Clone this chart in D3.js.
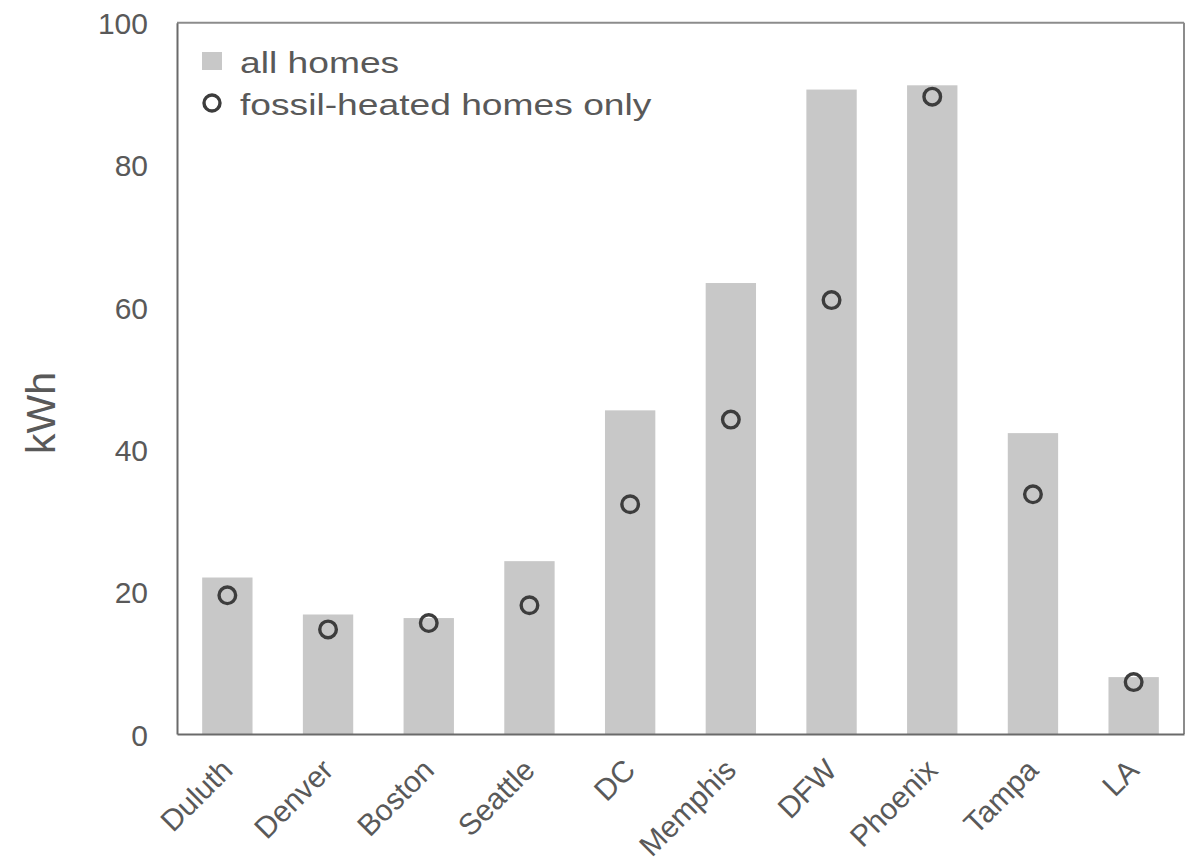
<!DOCTYPE html>
<html>
<head>
<meta charset="utf-8">
<script src="https://cdn.jsdelivr.net/npm/d3@7"></script>
<style>
  html, body { margin: 0; padding: 0; background: #fff; }
  svg text { font-family: "Liberation Sans", Arial, sans-serif; fill: #595959; }
</style>
</head>
<body>
<svg id="chart" width="1193" height="866"></svg>
<script>
const cities = ["Duluth", "Denver", "Boston", "Seattle", "DC", "Memphis", "DFW", "Phoenix", "Tampa", "LA"];
const allHomes = [22.0, 16.8, 16.3, 24.3, 45.5, 63.4, 90.6, 91.2, 42.3, 8.0];
const fossilHomes = [19.5, 14.7, 15.6, 18.1, 32.3, 44.2, 61.0, 89.6, 33.7, 7.3];
const yTicks = [0, 20, 40, 60, 80, 100];
const legendLabels = ["all homes", "fossil-heated homes only"];
const yLabel = "kWh";

const m = { left: 177, right: 1184, top: 22.7, bottom: 734 };
const SX = 1.24; // horizontal stretch of legend text seen in reference

const svg = d3.select("#chart");

const x = d3.scaleBand().domain(cities).range([m.left, m.right]).paddingInner(0.5).paddingOuter(0.25);
const y = d3.scaleLinear().domain([0, 100]).range([m.bottom, m.top]);

// bars
svg.append("g").selectAll("rect").data(cities).join("rect")
  .attr("x", d => x(d))
  .attr("width", x.bandwidth())
  .attr("y", (d, i) => y(allHomes[i]))
  .attr("height", (d, i) => y(0) - y(allHomes[i]))
  .attr("fill", "#c8c8c8");

// frame (top/right lighter)
svg.append("line").attr("x1", m.left).attr("x2", m.right).attr("y1", m.top).attr("y2", m.top)
  .attr("stroke", "#8c8c8c").attr("stroke-width", 2);
svg.append("line").attr("x1", m.right).attr("x2", m.right).attr("y1", m.top).attr("y2", m.bottom)
  .attr("stroke", "#8c8c8c").attr("stroke-width", 2);

// y axis
const yAxis = svg.append("g").attr("transform", `translate(${m.left},0)`)
  .call(d3.axisLeft(y).tickValues(yTicks).tickSize(0).tickPadding(0));
yAxis.select(".domain").attr("stroke", "#6a6a6a").attr("stroke-width", 2);
yAxis.selectAll(".tick text")
  .attr("x", -29).attr("dy", null).attr("y", 11)
  .attr("text-anchor", "end")
  .attr("font-size", 30)
  .style("fill", "#595959");

// x axis
const xAxis = svg.append("g").attr("transform", `translate(0,${m.bottom})`)
  .call(d3.axisBottom(x).tickSize(0).tickPadding(0));
xAxis.select(".domain").attr("stroke", "#6a6a6a").attr("stroke-width", 2);
xAxis.selectAll(".tick text")
  .attr("y", null).attr("dy", null)
  .attr("text-anchor", "end")
  .attr("font-size", 30)
  .attr("transform", `translate(7,38) rotate(-45)`)
  .style("fill", "#595959");
svg.selectAll(".tick line").remove();

// circles
svg.append("g").selectAll("circle").data(cities).join("circle")
  .attr("cx", d => x(d) + x.bandwidth() / 2)
  .attr("cy", (d, i) => y(fossilHomes[i]))
  .attr("r", 8.3)
  .attr("fill", "none")
  .attr("stroke", "#3d3d3d")
  .attr("stroke-width", 3.4);

// y label
svg.append("text")
  .attr("transform", `translate(55,413) rotate(-90)`)
  .attr("text-anchor", "middle")
  .attr("font-size", 41)
  .text(yLabel);

// legend
const leg = svg.append("g");
leg.append("rect").attr("x", 202).attr("y", 52).attr("width", 20).attr("height", 18).attr("fill", "#c8c8c8");
leg.append("circle").attr("cx", 212).attr("cy", 103).attr("r", 8).attr("fill", "none")
  .attr("stroke", "#3d3d3d").attr("stroke-width", 3.4);
leg.selectAll("text").data(legendLabels).join("text")
  .attr("transform", (d, i) => `translate(240,${72.5 + i * 42.5}) scale(${SX},1)`)
  .attr("font-size", 30)
  .text(d => d);
</script>
</body>
</html>
